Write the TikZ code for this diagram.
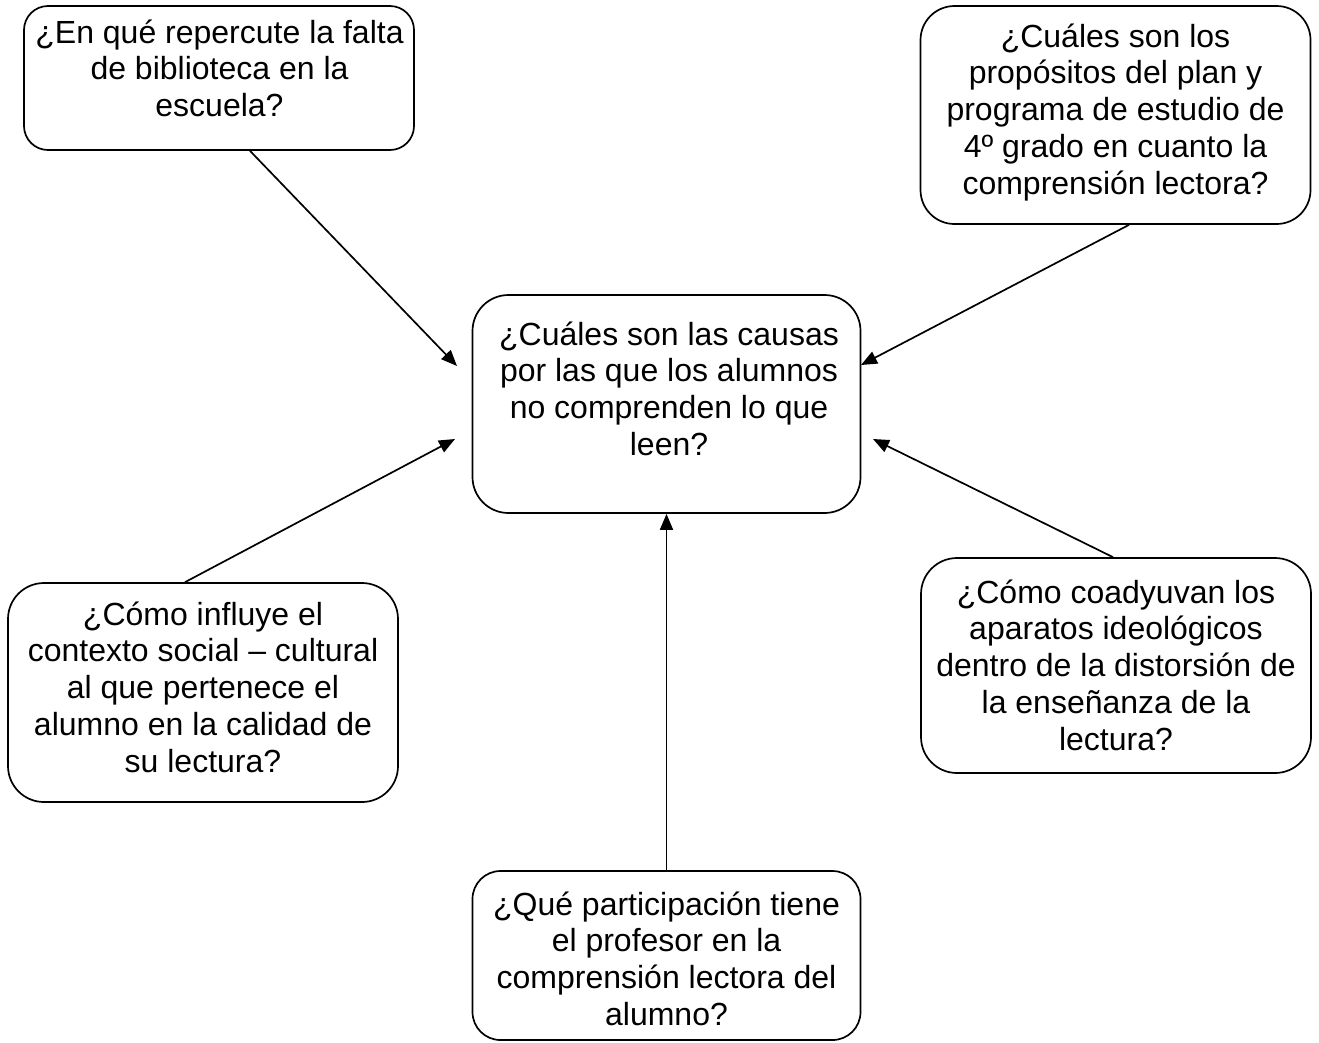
\documentclass[tikz,border=0pt]{standalone}
\usepackage{fontspec}
\setmainfont{Liberation Sans}
\usetikzlibrary{arrows.meta}
\begin{document}
\begin{tikzpicture}[x=1pt,y=-1pt,
  box/.style={draw, line width=1.7pt, inner sep=0pt, minimum width=390pt},
  txt/.style={inner sep=0pt, anchor=base, font=\fontsize{32}{36.8}\selectfont},
  arr/.style={line width=1.7pt, -{Triangle[length=16pt,width=13pt]}}]
\useasboundingbox (0,0) rectangle (1319,1042);
\fill[white] (0,0) rectangle (1319,1042);
% boxes
\node[box, minimum height=144pt, rounded corners=24pt] (tl) at (219,78) {};
\node[box, minimum height=218pt, rounded corners=34pt] (tr) at (1115.5,115) {};
\node[box, minimum width=388pt, minimum height=218pt, rounded corners=36pt] (c) at (666.5,404) {};
\node[box, minimum height=219pt, rounded corners=36pt] (l) at (203,692.5) {};
\node[box, minimum height=215pt, rounded corners=36pt] (r) at (1116,665.5) {};
\node[box, minimum width=388pt, minimum height=169pt, rounded corners=28pt] (b) at (666.5,955.5) {};
% texts
\node[txt] (tlt) at (219.5,43) {\parbox[t]{420pt}{\centering ¿En qué repercute la falta\\de biblioteca en la\\escuela?}};
\node[txt] (trt) at (1115.5,47) {\parbox[t]{420pt}{\centering ¿Cuáles son los\\propósitos del plan y\\programa de estudio de\\4º grado en cuanto la\\comprensión lectora?}};
\node[txt] (ct) at (669,345) {\parbox[t]{420pt}{\centering ¿Cuáles son las causas\\por las que los alumnos\\no comprenden lo que\\leen?}};
\node[txt] (lt) at (203,625) {\parbox[t]{420pt}{\centering ¿Cómo influye el\\contexto social – cultural\\al que pertenece el\\alumno en la calidad de\\su lectura?}};
\node[txt] (rt) at (1116,603) {\parbox[t]{420pt}{\centering ¿Cómo coadyuvan los\\aparatos ideológicos\\dentro de la distorsión de\\la enseñanza de la\\lectura?}};
\node[txt] (bt) at (666.5,915) {\parbox[t]{420pt}{\centering ¿Qué participación tiene\\el profesor en la\\comprensión lectora del\\alumno?}};
% arrow tips
\coordinate (p1) at (457,366);
\coordinate (p2) at (861,365);
\coordinate (p3) at (455,439);
\coordinate (p4) at (873,439);
% connectors
\draw[arr] ([xshift=31pt]tl.south) -- (p1);
\draw[arr] ([xshift=13.5pt]tr.south) -- (p2);
\draw[arr] ([xshift=-18pt]l.north) -- (p3);
\draw[arr] ([xshift=-3pt]r.north) -- (p4);
\draw[arr] (b.north) -- (c.south);
\end{tikzpicture}
\end{document}
